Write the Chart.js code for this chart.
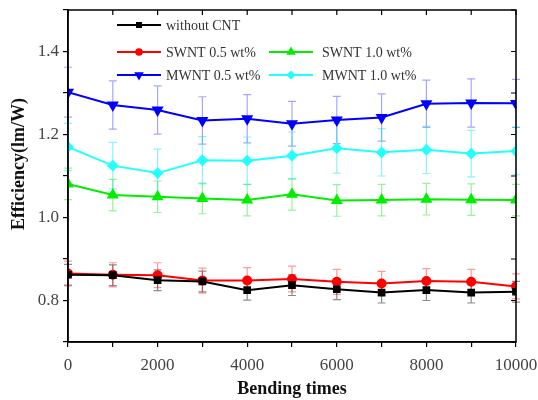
<!DOCTYPE html>
<html>
<head>
<meta charset="utf-8">
<script src="https://cdn.jsdelivr.net/npm/chart.js@4/dist/chart.umd.min.js"></script>
<style>
  html, body { margin: 0; padding: 0; background: #fff; }
  #wrap { width: 538px; height: 400px; }
</style>
</head>
<body>
<div id="wrap"><canvas id="grafico" width="538" height="400"></canvas></div>
<script>
const bendingTimes = [0, 1000, 2000, 3000, 4000, 5000, 6000, 7000, 8000, 9000, 10000];

const withoutCNT = [0.862, 0.861, 0.849, 0.846, 0.825, 0.837, 0.827, 0.819, 0.825, 0.819, 0.821];
const withoutCNTErr = [0.025, 0.025, 0.025, 0.025, 0.024, 0.025, 0.025, 0.025, 0.025, 0.025, 0.025];

const swnt05 = [0.865, 0.862, 0.861, 0.848, 0.848, 0.852, 0.845, 0.841, 0.847, 0.845, 0.834];
const swnt05Err = [0.03, 0.029, 0.03, 0.03, 0.031, 0.031, 0.03, 0.029, 0.03, 0.03, 0.03];

const swnt10 = [1.081, 1.054, 1.050, 1.046, 1.042, 1.056, 1.041, 1.042, 1.044, 1.043, 1.042];
const swnt10Err = [0.038, 0.038, 0.038, 0.037, 0.038, 0.038, 0.038, 0.038, 0.038, 0.038, 0.038];

const mwnt05 = [1.302, 1.271, 1.259, 1.234, 1.238, 1.226, 1.235, 1.241, 1.274, 1.276, 1.275];
const mwnt05Err = [0.06, 0.058, 0.058, 0.057, 0.058, 0.054, 0.057, 0.057, 0.057, 0.058, 0.058];

const mwnt10 = [1.170, 1.125, 1.107, 1.138, 1.137, 1.149, 1.167, 1.157, 1.163, 1.154, 1.160];
const mwnt10Err = [0.057, 0.056, 0.058, 0.057, 0.057, 0.057, 0.06, 0.057, 0.057, 0.056, 0.057];

const yTickLabels = [0.8, 1.0, 1.2, 1.4];
const xTickLabels = [0, 2000, 4000, 6000, 8000, 10000];

const series = [
    { label: "without CNT", data: withoutCNT, err: withoutCNTErr, cor: "#000000", barra: "rgba(0,0,0,0.45)", ponto: "rect", raio: 4 },
    { label: "SWNT 0.5 wt%", data: swnt05, err: swnt05Err, cor: "#ff0000", barra: "rgba(255,0,0,0.4)", ponto: "circle", raio: 4 },
    { label: "SWNT 1.0 wt%", data: swnt10, err: swnt10Err, cor: "#00ee00", barra: "rgba(0,220,0,0.4)", ponto: "triangle", raio: 5 },
    { label: "MWNT 0.5 wt%", data: mwnt05, err: mwnt05Err, cor: "#0000ff", barra: "rgba(0,0,255,0.35)", ponto: "triangle", raio: 5, rot: 180 },
    { label: "MWNT 1.0 wt%", data: mwnt10, err: mwnt10Err, cor: "#22ffff", barra: "rgba(0,230,230,0.45)", ponto: "rectRot", raio: 4.5 }
];

// posicao de cada item na legenda: [coluna, linha]
const legendaPos = [[0, 0], [0, 1], [1, 1], [0, 2], [1, 2]];

const fonteSerif = "'Liberation Serif', 'Times New Roman', serif";

const barrasErro = {
    id: "barrasErro",
    beforeDatasetsDraw(chart) {
        const ctx = chart.ctx;
        const y = chart.scales.y;
        ctx.save();
        chart.data.datasets.forEach((ds, i) => {
            const meta = chart.getDatasetMeta(i);
            ctx.strokeStyle = ds.corBarra;
            ctx.lineWidth = 1.2;
            meta.data.forEach((pt, j) => {
                const v = ds.data[j].y;
                const e = ds.erros[j];
                const y1 = y.getPixelForValue(v + e);
                const y2 = y.getPixelForValue(v - e);
                ctx.beginPath();
                ctx.moveTo(pt.x, y1); ctx.lineTo(pt.x, y2);
                ctx.moveTo(pt.x - 4, y1); ctx.lineTo(pt.x + 4, y1);
                ctx.moveTo(pt.x - 4, y2); ctx.lineTo(pt.x + 4, y2);
                ctx.stroke();
            });
        });
        ctx.restore();
    }
};

const molduraLegenda = {
    id: "molduraLegenda",
    afterDraw(chart) {
        const ctx = chart.ctx;
        const area = chart.chartArea;
        const xs = chart.scales.x;
        const ys = chart.scales.y;
        ctx.save();
        // moldura
        ctx.strokeStyle = "#000";
        ctx.lineWidth = 1.5;
        ctx.strokeRect(area.left, area.top, area.right - area.left, area.bottom - area.top);
        // ticks internos em cima e na direita
        ctx.lineWidth = 1.2;
        ctx.beginPath();
        bendingTimes.forEach(t => {
            const px = xs.getPixelForValue(t);
            ctx.moveTo(px, area.top); ctx.lineTo(px, area.top + 5);
        });
        for (let k = 7; k <= 15; k++) {
            const py = ys.getPixelForValue(k / 10);
            ctx.moveTo(area.right, py); ctx.lineTo(area.right - 5, py);
        }
        ctx.stroke();

        // titulos dos eixos
        ctx.fillStyle = "#111";
        ctx.font = "bold 18px " + fonteSerif;
        ctx.textAlign = "center";
        ctx.textBaseline = "middle";
        ctx.fillText("Bending times", (area.left + area.right) / 2, 389);
        ctx.save();
        ctx.translate(19, 164);
        ctx.rotate(-Math.PI / 2);
        ctx.fillText("Efficiency(lm/W)", 0, 0);
        ctx.restore();

        // legenda
        const colLinha = [117, 269];
        const colTexto = [166, 322];
        const linhas = [25, 52, 75];
        ctx.font = "14px " + fonteSerif;
        ctx.textAlign = "left";
        ctx.textBaseline = "middle";
        chart.data.datasets.forEach((ds, i) => {
            const [c, r] = legendaPos[i];
            const x0 = colLinha[c];
            const yy = linhas[r];
            ctx.strokeStyle = ds.borderColor;
            ctx.lineWidth = 2;
            ctx.beginPath();
            ctx.moveTo(x0, yy); ctx.lineTo(x0 + 44, yy);
            ctx.stroke();
            Chart.helpers.drawPoint(ctx, {
                pointStyle: ds.pointStyle,
                radius: ds.pointRadius * 0.7,
                rotation: ds.pointRotation || 0,
                borderWidth: 1
            }, x0 + 22, yy);
            ctx.fillStyle = ds.borderColor;
            ctx.fill();
            ctx.fillStyle = "#333";
            ctx.fillText(ds.label, colTexto[c], yy + 1);
        });
        ctx.restore();
    }
};

const grafico = new Chart(document.getElementById("grafico"), {
    type: "line",
    data: {
        datasets: series.map(s => ({
            label: s.label,
            data: bendingTimes.map((t, j) => ({ x: t, y: s.data[j] })),
            erros: s.err,
            corBarra: s.barra,
            borderColor: s.cor,
            backgroundColor: s.cor,
            borderWidth: 2,
            pointStyle: s.ponto,
            pointRadius: s.raio,
            pointRotation: s.rot || 0,
            pointBorderColor: s.cor,
            pointBackgroundColor: s.cor,
            tension: 0
        }))
    },
    options: {
        responsive: false,
        animation: false,
        layout: { padding: { top: 10, right: 22, left: 0, bottom: 0 } },
        plugins: {
            legend: { display: false },
            tooltip: { enabled: false }
        },
        scales: {
            x: {
                type: "linear",
                min: 0,
                max: 10000,
                afterFit: s => {
                    s.height = 58;
                    s.paddingLeft = 0;
                    s.paddingRight = 0;
                },
                afterBuildTicks: s => { s.ticks = bendingTimes.map(v => ({ value: v })); },
                ticks: {
                    color: "#444",
                    font: { family: fonteSerif, size: 17 },
                    padding: 8,
                    maxRotation: 0,
                    autoSkip: false,
                    callback: v => xTickLabels.includes(v) ? String(v) : ""
                },
                grid: { drawOnChartArea: false, tickLength: 5, color: "#000", lineWidth: 1.2 },
                border: { color: "#000", width: 1.5 },
                title: { display: false }
            },
            y: {
                min: 0.7,
                max: 1.5,
                afterFit: s => {
                    s.width = 68;
                    s.paddingTop = 0;
                    s.paddingBottom = 0;
                },
                afterBuildTicks: s => {
                    const t = [];
                    for (let k = 7; k <= 15; k++) t.push({ value: k / 10 });
                    s.ticks = t;
                },
                ticks: {
                    color: "#444",
                    font: { family: fonteSerif, size: 17 },
                    padding: 4,
                    autoSkip: false,
                    callback: v => {
                        const r = Math.round(v * 10) / 10;
                        return yTickLabels.includes(r) ? r.toFixed(1) : "";
                    }
                },
                grid: { drawOnChartArea: false, tickLength: 5, color: "#000", lineWidth: 1.2 },
                border: { color: "#000", width: 1.5 },
                title: { display: false }
            }
        }
    },
    plugins: [barrasErro, molduraLegenda]
});
</script>
</body>
</html>
